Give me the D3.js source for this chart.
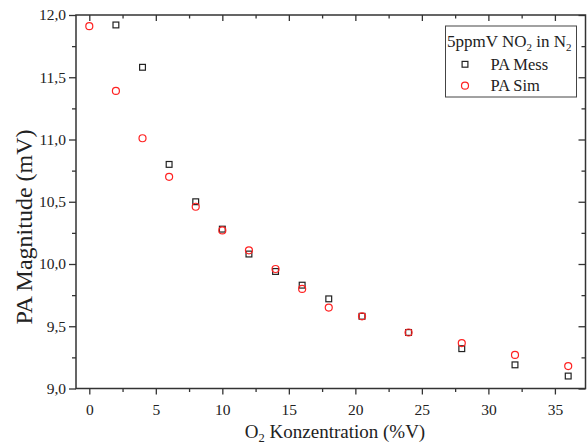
<!DOCTYPE html>
<html>
<head>
<meta charset="utf-8">
<script src="https://cdn.jsdelivr.net/npm/d3@7"></script>
<style>
  html, body { margin: 0; padding: 0; background: #fff; }
  svg { display: block; font-family: "Liberation Serif", "Times New Roman", serif; }
</style>
</head>
<body>
<svg id="chart" width="588" height="444"></svg>
<script>
// ---- data ----
const messX = [2, 4, 6, 8, 10, 12, 14, 16, 18, 20.5, 24, 28, 32, 36];
const messY = [11.92, 11.58, 10.80, 10.50, 10.28, 10.08, 9.94, 9.83, 9.72, 9.58, 9.45, 9.32, 9.19, 9.10];
const simX = [0, 2, 4, 6, 8, 10, 12, 14, 16, 18, 20.5, 24, 28, 32, 36];
const simY = [11.91, 11.39, 11.01, 10.70, 10.46, 10.27, 10.11, 9.96, 9.80, 9.65, 9.58, 9.45, 9.365, 9.27, 9.18];
const xTicks = [0, 5, 10, 15, 20, 25, 30, 35];
const xMinor = [2.5, 7.5, 12.5, 17.5, 22.5, 27.5, 32.5];
const yTicks = [9.0, 9.5, 10.0, 10.5, 11.0, 11.5, 12.0];
const yMinor = [9.25, 9.75, 10.25, 10.75, 11.25, 11.75];
const seriesNames = ["PA Mess", "PA Sim"];

// ---- layout ----
const L = 76, R = 585.5, T = 15, B = 388.5;
const svg = d3.select("#chart");
const x = d3.scaleLinear().domain([-1, 37.3]).range([L, R]);
const y = d3.scaleLinear().domain([9, 12]).range([B, T]);
const axisColor = "#333";
const fmt = d => d3.format(".1f")(d).replace(".", ",");

function styleAxis(g) {
  g.select(".domain").remove();
  g.selectAll("line").attr("stroke", axisColor).attr("stroke-width", 1.3);
  g.selectAll("text").attr("fill", "#222").style("font-size", "15.5px")
    .style("font-family", "'Liberation Serif', serif");
}

// bottom
svg.append("g").attr("transform", `translate(0,${B})`)
  .call(d3.axisBottom(x).tickValues(xTicks).tickFormat(d3.format("d")).tickSize(6).tickPadding(9))
  .call(styleAxis);
svg.append("g").attr("transform", `translate(0,${B})`)
  .call(d3.axisBottom(x).tickValues(xMinor).tickFormat("").tickSize(3.5))
  .call(styleAxis);
// top (inward)
svg.append("g").attr("transform", `translate(0,${T})`)
  .call(d3.axisBottom(x).tickValues(xTicks).tickFormat("").tickSize(6))
  .call(styleAxis);
svg.append("g").attr("transform", `translate(0,${T})`)
  .call(d3.axisBottom(x).tickValues(xMinor).tickFormat("").tickSize(3.5))
  .call(styleAxis);
// left
svg.append("g").attr("transform", `translate(${L},0)`)
  .call(d3.axisLeft(y).tickValues(yTicks).tickFormat(fmt).tickSize(7).tickPadding(3))
  .call(styleAxis);
svg.append("g").attr("transform", `translate(${L},0)`)
  .call(d3.axisLeft(y).tickValues(yMinor).tickFormat("").tickSize(4))
  .call(styleAxis);
// right (inward)
svg.append("g").attr("transform", `translate(${R},0)`)
  .call(d3.axisLeft(y).tickValues(yTicks).tickFormat("").tickSize(7))
  .call(styleAxis);
svg.append("g").attr("transform", `translate(${R},0)`)
  .call(d3.axisLeft(y).tickValues(yMinor).tickFormat("").tickSize(4))
  .call(styleAxis);

// frame
svg.append("rect").attr("x", L).attr("y", T).attr("width", R - L).attr("height", B - T)
  .attr("fill", "none").attr("stroke", axisColor).attr("stroke-width", 1.5);

// ---- marks ----
const sq = 5.8;
svg.append("g").selectAll("rect").data(messX.map((d, i) => [d, messY[i]])).join("rect")
  .attr("x", d => x(d[0]) - sq / 2).attr("y", d => y(d[1]) - sq / 2)
  .attr("width", sq).attr("height", sq)
  .attr("fill", "none").attr("stroke", "#222").attr("stroke-width", 1.2);
svg.append("g").selectAll("circle").data(simX.map((d, i) => [d, simY[i]])).join("circle")
  .attr("cx", d => x(d[0])).attr("cy", d => y(d[1])).attr("r", 3.5)
  .attr("fill", "none").attr("stroke", "#f22").attr("stroke-width", 1.2);

// ---- axis titles ----
const xt = svg.append("text").attr("x", 335).attr("y", 437.5).attr("text-anchor", "middle")
  .style("font-size", "19px").attr("fill", "#222");
xt.append("tspan").text("O");
xt.append("tspan").text("2").style("font-size", "12.5px").attr("dy", 4);
xt.append("tspan").text(" Konzentration (%V)").attr("dy", -4);

svg.append("text").attr("transform", "translate(32,227) rotate(-90)")
  .attr("text-anchor", "middle").style("font-size", "24px").attr("fill", "#222")
  .text("PA Magnitude (mV)");

// ---- legend ----
const lg = svg.append("g");
lg.append("rect").attr("x", 445.5).attr("y", 26).attr("width", 131).attr("height", 71)
  .attr("fill", "#fff").attr("stroke", "#444").attr("stroke-width", 1);
const lt = lg.append("text").attr("x", 447).attr("y", 47).style("font-size", "17px").attr("fill", "#222");
lt.append("tspan").text("5ppmV NO");
lt.append("tspan").text("2").style("font-size", "11px").attr("dy", 4);
lt.append("tspan").text(" in N").attr("dy", -4);
lt.append("tspan").text("2").style("font-size", "11px").attr("dy", 4);
lg.append("rect").attr("x", 465 - sq / 2).attr("y", 64.3 - sq / 2).attr("width", sq).attr("height", sq)
  .attr("fill", "none").attr("stroke", "#222").attr("stroke-width", 1.2);
lg.append("circle").attr("cx", 465).attr("cy", 85.7).attr("r", 3.5)
  .attr("fill", "none").attr("stroke", "#f22").attr("stroke-width", 1.2);
lg.append("text").attr("x", 490.5).attr("y", 70).style("font-size", "16.5px").attr("fill", "#222").text(seriesNames[0]);
lg.append("text").attr("x", 490.5).attr("y", 90.7).style("font-size", "16.5px").attr("fill", "#222").text(seriesNames[1]);
</script>
</body>
</html>
